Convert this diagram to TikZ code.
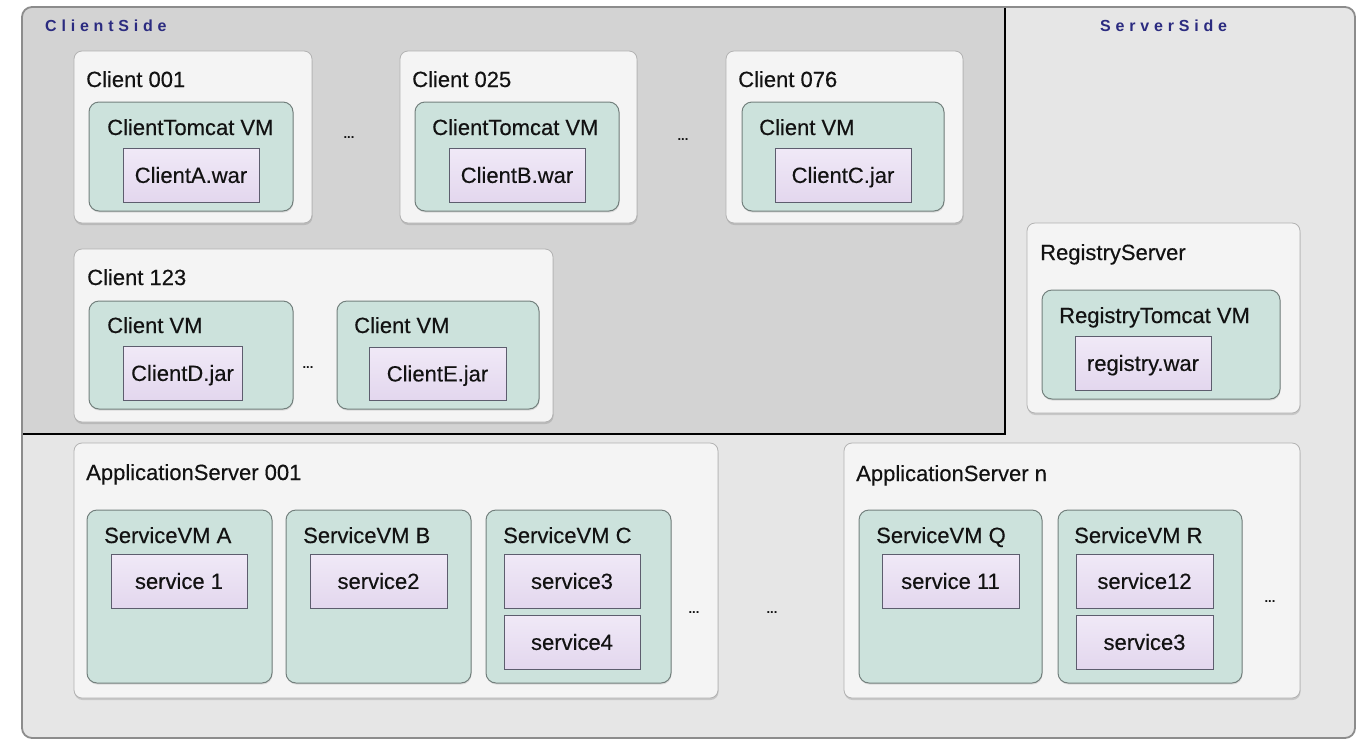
\documentclass[tikz,border=0pt]{standalone}
\usepackage{fontspec}
\setmainfont{Liberation Sans}
\newfontfamily\heavyfont[FakeBold=0.35]{Liberation Sans}
\newfontfamily\sidefont[LetterSpace=30]{Liberation Sans}
\usetikzlibrary{shadows}
\definecolor{serverfill}{HTML}{E6E6E6}
\definecolor{clientfill}{HTML}{D3D3D3}
\definecolor{framec}{HTML}{8C8C8C}
\definecolor{wfill}{HTML}{F4F4F4}
\definecolor{wborder}{HTML}{B2B2B2}
\definecolor{vmfill}{HTML}{CCE2DC}
\definecolor{vmborder}{HTML}{73807D}
\definecolor{leaftop}{HTML}{F0E9F7}
\definecolor{leafbot}{HTML}{E3D7EE}
\definecolor{leafborder}{HTML}{5D5D6E}
\definecolor{sidecol}{HTML}{2B2B80}
\definecolor{txtcol}{HTML}{121212}
\newcommand{\mybox}[7]{\node[#1, minimum width={#5-#3}, minimum height={#6-#4}] (#2) at (#3,#4) {#7};}
\begin{document}
\begin{tikzpicture}[x=1pt,y=-1pt,
  bigtxt/.style={font=\heavyfont\fontsize{22}{26}\selectfont, text=txtcol},
  wbox/.style={draw=wborder, fill=wfill, rounded corners=8pt, line width=0.8pt,
    drop shadow={shadow xshift=0.5pt, shadow yshift=-2pt, opacity=0.3},
    anchor=north west, inner sep=0pt, outer sep=0pt},
  vmbox/.style={draw=vmborder, fill=vmfill, rounded corners=10pt, line width=1pt,
    drop shadow={shadow xshift=0.5pt, shadow yshift=-1.5pt, opacity=0.22},
    anchor=north west, inner sep=0pt, outer sep=0pt},
  leaf/.style={draw=leafborder, top color=leaftop, bottom color=leafbot, line width=0.9pt,
    anchor=north west, inner sep=0pt, outer sep=0pt, bigtxt, text height=15.8pt, text depth=0pt},
  ttl/.style={bigtxt, anchor=base west, inner sep=0pt},
  dots/.style={font=\fontsize{13}{14}\selectfont\bfseries, text=txtcol, inner sep=0pt},
  side/.style={font=\sidefont\fontsize{16}{18}\selectfont\bfseries, text=sidecol, anchor=base west, inner sep=0pt}
]
\useasboundingbox (0,0) rectangle (1361,740);
\fill[white] (0,0) rectangle (1361,740);
% outer frame
\fill[serverfill, rounded corners=10pt] (22,7) rectangle (1355,738);
\begin{scope}
  \clip[rounded corners=10pt] (22,7) rectangle (1355,738);
  \fill[clientfill] (22,7) rectangle (1005,434);
\end{scope}
\draw[black, line width=2.2pt] (1005,7) -- (1005,434) -- (22,434);
\draw[framec, line width=1.8pt, rounded corners=10pt] (22,7) rectangle (1355,738);

\node[side] (lcs) at (45,31) {ClientSide};
\node[side] (lss) at (1100,31) {ServerSide};

% top row clients
\mybox{wbox}{c001}{74}{51}{312}{223}{}
\mybox{wbox}{c025}{400}{51}{637}{223}{}
\mybox{wbox}{c076}{726}{51}{963}{223}{}
\mybox{vmbox}{vm001}{89}{102}{293}{211}{}
\mybox{vmbox}{vm025}{415}{102}{619}{211}{}
\mybox{vmbox}{vm076}{742}{102}{944}{211}{}
\mybox{leaf}{wa}{123}{148}{259}{202}{ClientA.war}
\mybox{leaf}{wb}{449}{148}{585}{202}{ClientB.war}
\mybox{leaf}{jc}{775}{148}{911}{202}{ClientC.jar}
\node[ttl] (t001) at (86,87) {Client 001};
\node[ttl] (t025) at (412,87) {Client 025};
\node[ttl] (t076) at (738,87) {Client 076};
\node[ttl] (tvm001) at (107,135) {ClientTomcat VM};
\node[ttl] (tvm025) at (432,135) {ClientTomcat VM};
\node[ttl] (tvm076) at (759,135) {Client VM};
\node[dots] (d1) at (349,138) {...};
\node[dots] (d2) at (683,140) {...};

% client 123
\mybox{wbox}{c123}{74}{249}{553}{422}{}
\mybox{vmbox}{vmd}{89}{301}{293}{409}{}
\mybox{vmbox}{vme}{337}{301}{539}{409}{}
\mybox{leaf}{jd}{123}{346}{242}{400}{ClientD.jar}
\mybox{leaf}{je}{369}{347}{506}{400}{ClientE.jar}
\node[ttl] (t123) at (87,285) {Client 123};
\node[ttl] (tvmd) at (107,333) {Client VM};
\node[ttl] (tvme) at (354,333) {Client VM};
\node[dots] (d3) at (308,368) {...};

% registry
\mybox{wbox}{reg}{1027}{223}{1300}{413}{}
\mybox{vmbox}{vmreg}{1042}{290}{1280}{399}{}
\mybox{leaf}{wr}{1075}{336}{1211}{390}{registry.war}
\node[ttl] (treg) at (1040,260) {RegistryServer};
\node[ttl] (tvmreg) at (1059,323) {RegistryTomcat VM};

% application server 001
\mybox{wbox}{as1}{74}{443}{718}{698}{}
\mybox{vmbox}{sva}{87}{510}{272}{683}{}
\mybox{vmbox}{svb}{286}{510}{471}{683}{}
\mybox{vmbox}{svc}{486}{510}{671}{683}{}
\mybox{leaf}{s1}{111}{554}{247}{608}{service 1}
\mybox{leaf}{s2}{310}{554}{447}{608}{service2}
\mybox{leaf}{s3}{504}{554}{640}{608}{service3}
\mybox{leaf}{s4}{504}{615}{640}{669}{service4}
\node[ttl] (tas1) at (86,480) {ApplicationServer 001};
\node[ttl] (tsva) at (104,543) {ServiceVM A};
\node[ttl] (tsvb) at (303,543) {ServiceVM B};
\node[ttl] (tsvc) at (503,543) {ServiceVM C};
\node[dots] (d4) at (694,613) {...};
\node[dots] (d5) at (772,613) {...};

% application server n
\mybox{wbox}{asn}{844}{443}{1300}{698}{}
\mybox{vmbox}{svq}{859}{510}{1042}{683}{}
\mybox{vmbox}{svr}{1058}{510}{1242}{683}{}
\mybox{leaf}{s11}{882}{554}{1019}{608}{service 11}
\mybox{leaf}{s12}{1076}{554}{1213}{608}{service12}
\mybox{leaf}{s3r}{1076}{615}{1213}{669}{service3}
\node[ttl] (tasn) at (856,481) {ApplicationServer n};
\node[ttl] (tsvq) at (876,543) {ServiceVM Q};
\node[ttl] (tsvr) at (1074,543) {ServiceVM R};
\node[dots] (d6) at (1270,602) {...};
\end{tikzpicture}
\end{document}
